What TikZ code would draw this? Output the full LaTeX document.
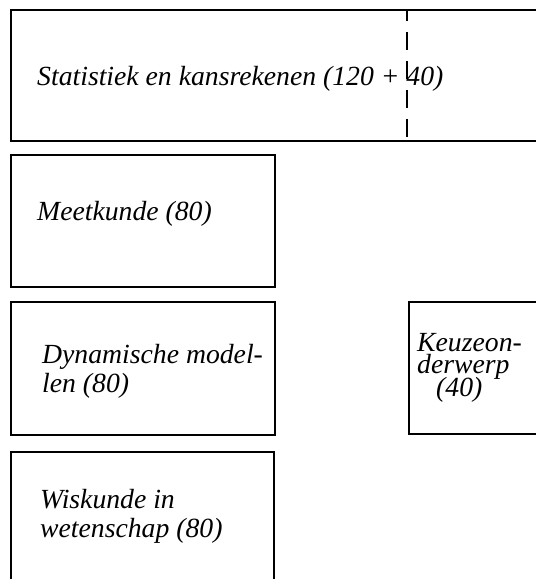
\documentclass[tikz,border=0pt]{standalone}
\usepackage{fontspec}
\setmainfont{Liberation Serif}
\begin{document}
\begin{tikzpicture}[x=1pt,y=-1pt,
  box/.style={draw=black,line width=2.6pt},
  divider/.style={draw=black,line width=2.6pt,dash pattern=on 18pt off 11pt,dash phase=7pt},
  lbl/.style={anchor=base west,inner sep=0pt,font=\fontsize{27.7}{29}\selectfont\itshape}]
\useasboundingbox (0,0) rectangle (536,579);
\clip (0,0) rectangle (536,579);
% boxes
\draw[box] (11,10) rectangle (560,141);
\draw[divider] (407,10) -- (407,141);
\draw[box] (11,155) rectangle (275,287);
\draw[box] (11,302) rectangle (275,435);
\draw[box] (409,302) rectangle (560,434);
\draw[box] (11,452) rectangle (274,600);
% labels
\node[lbl] (stat) at (37,85) {Statistiek en kansrekenen (120 + 40)};
\node[lbl] (meet) at (37,220) {Meetkunde (80)};
\node[lbl] (dyn) at (42,363) {\parbox[t]{240pt}{\lineskiplimit=-100pt\baselineskip=29pt\raggedright Dynamische model-\\len (80)}};
\node[lbl] (wis) at (40,508) {\parbox[t]{240pt}{\lineskiplimit=-100pt\baselineskip=29pt\raggedright Wiskunde in\\wetenschap (80)}};
\node[lbl] (keuze) at (417,351) {\parbox[t]{118pt}{\lineskiplimit=-100pt\baselineskip=22.5pt\raggedright Keuzeon-\\derwerp\\\hspace*{19pt}(40)}};
\end{tikzpicture}
\end{document}
